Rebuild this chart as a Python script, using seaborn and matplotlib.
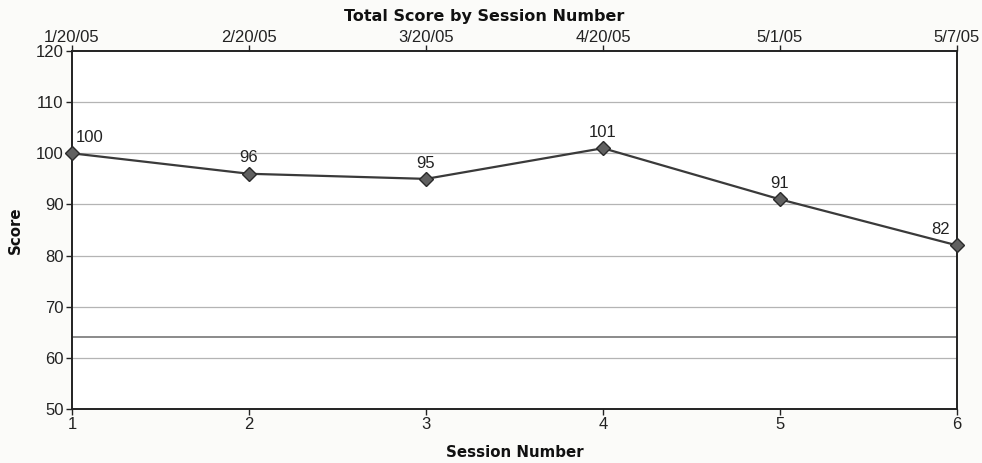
import matplotlib
matplotlib.use("Agg")
import matplotlib.pyplot as plt
import seaborn as sns
import pandas as pd

sessions = [1, 2, 3, 4, 5, 6]
scores = [100, 96, 95, 101, 91, 82]
session_dates = ["1/20/05", "2/20/05", "3/20/05", "4/20/05", "5/1/05", "5/7/05"]
y_ticks = [50, 60, 70, 80, 90, 100, 110, 120]
threshold = 64

df = pd.DataFrame({"Session Number": sessions, "Score": scores})

sns.set_theme(style="white")
plt.rcParams["font.family"] = ["Liberation Sans", "DejaVu Sans"]
bold_family = ["DejaVu Sans"]

fig = plt.figure(figsize=(9.82, 4.63), dpi=100)
fig.patch.set_facecolor("#fbfbf9")
ax = fig.add_axes([0.0733, 0.1166, 0.9012, 0.7732])
ax.set_facecolor("white")

for y in y_ticks[1:-1]:
    ax.axhline(y, color="#b4b4b4", lw=0.9, zorder=1)
ax.axhline(threshold, color="#8a8a8a", lw=1.4, zorder=1)

sns.lineplot(data=df, x="Session Number", y="Score", ax=ax, color="#3a3a3a",
             lw=1.6, marker="D", markersize=7, markerfacecolor="#606060",
             markeredgecolor="#2a2a2a", markeredgewidth=1.0, zorder=3,
             clip_on=False)

# nudge the end labels inward so they stay inside the frame
for i, (x, y) in enumerate(zip(sessions, scores)):
    dx = 0.1 if i == 0 else (-0.09 if i == len(sessions) - 1 else 0)
    ax.annotate(f"{y}", (x + dx, y), xytext=(0, 6), textcoords="offset points",
                ha="center", va="bottom", fontsize=12, color="#222222")

ax.set_xlim(1, 6)
ax.set_ylim(50, 120)
ax.set_xticks(sessions)
ax.set_yticks(y_ticks)
ax.tick_params(axis="both", direction="out", length=4, width=1, colors="#222222",
               labelsize=12, pad=2, bottom=True, left=True)
ax.set_xlabel("Session Number", fontsize=10.8, fontweight="bold", labelpad=9,
              family=bold_family, color="#111111")
ax.set_ylabel("Score", fontsize=10.8, fontweight="bold", labelpad=9,
              family=bold_family, color="#111111")

for side in ["left", "bottom", "top", "right"]:
    ax.spines[side].set_visible(True)
    ax.spines[side].set_color("#222222")
    ax.spines[side].set_linewidth(1.4)

top = ax.twiny()
top.set_xlim(ax.get_xlim())
top.set_xticks(sessions)
top.set_xticklabels(session_dates)
top.tick_params(axis="x", direction="out", length=4, width=1, colors="#222222",
                labelsize=12, pad=0, top=True)
for s in top.spines.values():
    s.set_visible(False)

fig.text(0.4935, 0.964, "Total Score by Session Number", ha="center", va="center",
         fontsize=11.5, fontweight="bold", color="#111111", family=bold_family)

fig.savefig("out.png", dpi=100, facecolor=fig.get_facecolor())
